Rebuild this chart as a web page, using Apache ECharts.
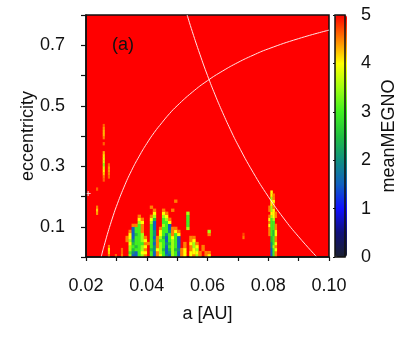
<!DOCTYPE html>
<html><head><meta charset="utf-8">
<style>html,body{margin:0;padding:0;background:#fff}#c{width:399px;height:346px}</style>
<script src="https://cdn.jsdelivr.net/npm/echarts@6/dist/echarts.min.js"></script>
</head><body><div id="c"></div>
<script>
const aStep = 0.001, eStep = 0.01, streakStep = 0.0006;
const clusterA0 = 0.033;
// rows listed from the bottom (e = 0) upward; columns from a = 0.033; 5 = red background
const clusterRows = [
 [5,3.5,1.5,1.5,3,3.5,4.5,5,3,1.5,4.5,4,3,2,1.5,3.5,3,1.5,4.5,4,5,4,4.5,3.5,4.5,5,4.5,4],
 [5,3,2,1.5,3,4,4,5,3,1.5,4.5,3.5,3,1.5,2,3.5,3,1.5,4.5,4,5,4,4,4,4.5,5,4.5,4.5],
 [5,3.5,2.5,3,3,3.5,4.5,5,2.5,2,4,3.5,2.5,1.5,2.5,3.5,2.5,2,4.5,4,5,4.5,4,3.5,5,4.5,5,5],
 [5,3.5,3,2.5,3,3.5,4,5,3,2,4.5,3.5,3,1.5,3,3.5,3,1.5,5,4.5,5,4.5,3.5,4,5,4.5,5,5],
 [5,4,2.5,3,3,3,4.5,4.5,3,1.5,4.5,3.5,3,2,2.5,3.5,3,1.5,5,4.5,5,4,3.5,4.5,5,5,5,5],
 [4.5,3.5,2,3,3,3.5,4,5,3,2,4.5,3,3,1.5,3,3.5,3,1.5,5,5,5,4.5,4,5,5,5,5,5],
 [4.5,4,1.5,3,3,3.5,4.5,5,3,1.5,4.5,3.5,2.5,1.5,3,4,3,1.5,5,5,5,4.5,4.5,5,5,5,5,5],
 [5,4,1.5,2.5,3,3.5,5,5,3,2,5,4,3,2,3,4.5,3,4,5,5,5,5,5,5,5,5,5,4.5],
 [5,4.5,1.5,3,3,4.5,5,5,3,2,5,4,3,3,2,4.5,4,4.5,5,5,5,5,5,5,5,5,5,3.5],
 [5,5,1.5,3,3,4.5,5,5,3,1.5,5,4.5,3,3,1.5,4.5,4.5,5,5,5,3.5,5,5,5,5,5,5,5],
 [5,5,4.5,4.5,3,4.5,5,5,3,1.5,5,5,3.5,3,1.5,5,5,5,5,5,3,5,5,5,5,5,5,5],
 [5,5,5,5,3.5,4,5,5,3.5,1.5,5,5,3,3,4,5,5,5,5,5,3,5,5,5,5,5,5,5],
 [5,5,5,5,4,4.5,5,5,4,2.5,5,5,3,3.5,4.5,5,5,5,5,5,3,5,5,5,5,5,5,5],
 [5,5,5,5,4.5,5,5,5,4.5,3.5,5,5,3.5,4,5,5,5,5,5,5,3,5,5,5,5,5,5,5],
 [5,5,5,5,5,5,5,5,5,4,5,5,4,4.5,5,5,5,5,5,5,3.5,5,5,5,5,5,5,5],
 [5,5,5,5,5,5,5,5,5,4.5,5,5,4.5,5,5,4.5,5,5,5,5,5,5,5,5,5,5,5,5],
 [5,5,5,5,5,5,5,5,4.5,5,5,5,5,5,5,5,5,5,5,5,5,5,5,5,5,5,5,5],
 [5,5,5,5,5,5,5,5,5,5,5,5,5,5,5,5,5,5,5,5,5,5,5,5,5,5,5,5],
 [5,5,5,5,5,5,5,5,5,5,5,5,5,5,5,5,4.5,5,5,5,5,5,5,5,5,5,5,5]
];
const resonanceA0 = 0.080;
// columns a = 0.080 .. 0.083, rows from e = 0 upward
const resonanceRows = [
 [5,1.5,3,4.5],[5,1.5,3,4.5],[5,1.5,3,4],[5,2,3.5,4.5],[5,2,3,4],[5,2.5,3,4.5],
 [5,2.5,3,4.5],[4.5,3,2.5,4],[4.5,3,2.5,4],[4.5,3,3,4.5],[4,3,3,4.5],[4.5,3,3,5],
 [4,3,3.5,5],[4.5,3.5,4,4.5],[5,4,4,4.5],[4.5,3.5,4,5],[4.5,3.5,4.5,5],[5,4,4.5,5],
 [5,4,4,5],[5,3.5,4.5,5],[5,4,4.5,5],[5,4,5,5]
];
// isolated thin cells [a, e, meanMEGNO]
const streakCells = [
 [0.0255,0.43,4.6],[0.0255,0.42,4.4],[0.0255,0.41,4.3],[0.0255,0.40,4.3],[0.0255,0.39,4.5],[0.0255,0.37,4.6],[0.0255,0.34,4.3],[0.0255,0.33,4.1],
 [0.0255,0.32,3.9],[0.0255,0.31,3.8],[0.0255,0.30,3.4],[0.0255,0.29,3.8],[0.0255,0.28,4],[0.0255,0.27,4.2],[0.0255,0.26,4.5],[0.0255,0.25,4.6],
 [0.0272,0.30,4.6],[0.0272,0.29,4.4],[0.0272,0.28,4.4],[0.0272,0.27,4.5],[0.0272,0.26,4.6],
 [0.0233,0.22,4.6],[0.0233,0.16,4.5],[0.0233,0.15,4.2],[0.0233,0.14,4.4],
 [0.0272,0.03,4.5],[0.0272,0.02,4.1],[0.0272,0.01,4.2],[0.0272,0,4.5],
 [0.0295,0,4.6],[0.0315,0.02,4.6],[0.0315,0.01,4.6],[0.0315,0,4.5],
 [0.0715,0.06,4.5],[0.0715,0.07,4.7]
];
const curveInner = [[0.025,0],[0.0255,0.02],[0.026,0.038],[0.027,0.074],[0.028,0.107],[0.029,0.138],[0.03,0.167],[0.0325,0.231],[0.035,0.286],[0.0375,0.333],[0.04,0.375],[0.0425,0.412],[0.045,0.444],[0.0475,0.474],[0.05,0.5],[0.055,0.545],[0.06,0.583],[0.065,0.615],[0.07,0.643],[0.075,0.667],[0.08,0.688],[0.09,0.722],[0.1,0.75]];
const curveOuter = [[0.0533,0.8],[0.055,0.745],[0.0575,0.67],[0.06,0.6],[0.0625,0.536],[0.065,0.477],[0.0675,0.422],[0.07,0.371],[0.075,0.28],[0.08,0.2],[0.085,0.129],[0.09,0.067],[0.096,0]];
const markerPoints = [[0.0207,0.21]];
const xTickLabels = [0.02,0.04,0.06,0.08,0.10];
const yTickLabels = [0.1,0.3,0.5,0.7];
const barTicks = [0,1,2,3,4,5];
const paletteStops = ['#1a2030','#10107a','#1010ff','#1060c0','#109080','#20c040','#40f020','#a0ff10','#ffff00','#ff8000','#ff0000'];

const cells = [];
clusterRows.forEach((row,r)=>row.forEach((v,c)=>{ if(v<5) cells.push([clusterA0+c*aStep,r*eStep,v,aStep]); }));
resonanceRows.forEach((row,r)=>row.forEach((v,c)=>{ if(v<5) cells.push([resonanceA0+c*aStep*0.7,r*eStep,v,aStep*0.7]); }));
streakCells.forEach(s=>cells.push([s[0],s[1],s[2],streakStep]));

const font='"Liberation Sans",Arial,sans-serif', ink='#111111', fs=18;
const chart = echarts.init(document.getElementById('c'),null,{renderer:'canvas'});
const curveStyle = {type:'line',smooth:true,showSymbol:false,symbol:'none',silent:true,lineStyle:{color:'#ffe4e4',width:1},z:4,clip:true};
chart.setOption({
 animation:false,
 grid:[
  {left:86,top:15,width:243,height:242,show:true,backgroundColor:'#ff0000',borderColor:ink,borderWidth:1.5},
  {left:335,top:15,width:12,height:242,show:true,backgroundColor:'transparent',borderColor:ink,borderWidth:1.5,z:6}
 ],
 xAxis:[
  {gridIndex:0,type:'value',min:0.02,max:0.10,interval:0.01,name:'a [AU]',nameLocation:'middle',nameGap:48,nameMoveOverlap:false,
   nameTextStyle:{fontFamily:font,fontSize:fs,color:ink},z:10,
   axisLine:{show:true,onZero:false,lineStyle:{color:ink,width:1.5}},
   axisTick:{show:true,inside:false,length:4,lineStyle:{color:ink,width:1.2}},
   axisLabel:{show:true,customValues:xTickLabels,margin:20,fontFamily:font,fontSize:fs,color:ink,formatter:v=>v.toFixed(2),showMinLabel:true,showMaxLabel:true,hideOverlap:false},
   splitLine:{show:false}},
  {gridIndex:1,type:'value',min:0,max:1,show:false}
 ],
 yAxis:[
  {gridIndex:0,type:'value',min:0,max:0.8,interval:0.1,name:'eccentricity',nameLocation:'middle',nameGap:49,nameMoveOverlap:false,
   nameTextStyle:{fontFamily:font,fontSize:fs,color:ink},z:10,
   axisLine:{show:true,onZero:false,lineStyle:{color:ink,width:1.5}},
   axisTick:{show:true,inside:false,length:5,lineStyle:{color:ink,width:1.2}},
   axisLabel:{show:true,customValues:yTickLabels,margin:21,fontFamily:font,fontSize:fs,color:ink,formatter:v=>v.toFixed(1)},
   splitLine:{show:false}},
  {gridIndex:1,type:'value',min:0,max:5,interval:1,position:'right',name:'meanMEGNO',nameLocation:'middle',nameGap:35,nameMoveOverlap:false,
   nameTextStyle:{fontFamily:font,fontSize:fs,color:ink},z:10,
   axisLine:{show:false},
   axisTick:{show:true,inside:true,length:2,lineStyle:{color:ink,width:1}},
   axisLabel:{show:true,customValues:barTicks,margin:16,fontFamily:font,fontSize:fs,color:ink,formatter:v=>String(v)},
   splitLine:{show:false}}
 ],
 visualMap:{type:'continuous',min:0,max:5,seriesIndex:0,dimension:2,calculable:false,realtime:false,
  left:335,top:15,itemWidth:12,itemHeight:242,text:['',''],showLabel:false,inRange:{color:paletteStops},z:4,padding:0,textStyle:{fontSize:0}},
 graphic:[{type:'text',left:112,top:36,style:{text:'(a)',fontFamily:font,fontSize:fs,fill:ink}}],
 series:[
  {type:'custom',xAxisIndex:0,yAxisIndex:0,data:cells,encode:{x:0,y:1},clip:true,z:3,silent:true,
   renderItem:(p,api)=>{
    const a=api.value(0),e=api.value(1),w=api.value(3);
    const p0=api.coord([a,e]),p1=api.coord([a+w,e+eStep]);
    return {type:'rect',shape:{x:p0[0],y:p1[1],width:p1[0]-p0[0]+0.3,height:p0[1]-p1[1]+0.3},style:{fill:api.visual('color')}};
   }},
  Object.assign({name:'inner',data:curveInner,xAxisIndex:0,yAxisIndex:0},curveStyle),
  Object.assign({name:'outer',data:curveOuter,xAxisIndex:0,yAxisIndex:0},curveStyle),
  {type:'scatter',xAxisIndex:0,yAxisIndex:0,data:markerPoints,symbol:'path://M4,0H6V4H10V6H6V10H4V6H0V4H4Z',symbolSize:5,itemStyle:{color:'#fff'},z:5,silent:true}
 ]
});
</script></body></html>
